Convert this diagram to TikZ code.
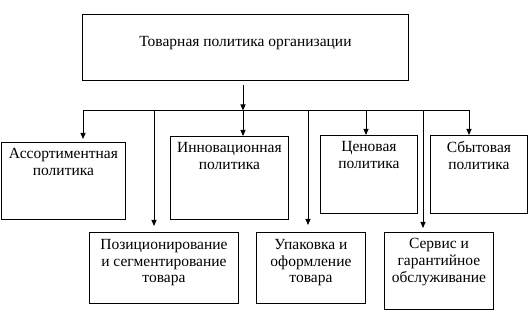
\documentclass[tikz,border=0pt]{standalone}
\usepackage{fontspec}
\setmainfont{Liberation Serif}
\usetikzlibrary{arrows.meta,calc}
\begin{document}
\begin{tikzpicture}[x=1pt,y=-1pt,
  box/.style={draw,line width=0.9pt,inner sep=0pt,anchor=north west},
  lbl/.style={anchor=north,align=center,inner sep=0pt,font=\fontsize{15.5}{16.8}\selectfont},
  con/.style={line width=0.9pt},
  arr/.style={con,-{Triangle[length=6pt,width=5pt]}}]
\useasboundingbox (0,0) rectangle (530,312);
% boxes
\node[box,minimum width=326pt,minimum height=66pt] (top) at (82,14) {};
\node[font=\fontsize{15.5}{16.8}\selectfont,inner sep=0pt] (top-t) at (245.5,43) {Товарная политика организации};
\node[box,minimum width=124pt,minimum height=77pt] (A) at (1,142) {};
\node[box,minimum width=118pt,minimum height=83pt] (I) at (170,136) {};
\node[box,minimum width=97pt,minimum height=78pt] (C) at (320,135) {};
\node[box,minimum width=97pt,minimum height=78pt] (S) at (430,135) {};
\node[box,minimum width=149pt,minimum height=71pt] (P) at (89,232) {};
\node[box,minimum width=109pt,minimum height=71pt] (U) at (256,232) {};
\node[box,minimum width=109pt,minimum height=77pt] (R) at (384,232) {};
% texts
\node[lbl] (A-t) at ([yshift=-6pt]A.north) {Ассортиментная\\политика};
\node[lbl] (I-t) at ([yshift=-6pt]I.north) {Инновационная\\политика};
\node[lbl] (C-t) at ([yshift=-6pt]C.north) {Ценовая\\политика};
\node[lbl] (S-t) at ([yshift=-6pt]S.north) {Сбытовая\\политика};
\node[lbl] (P-t) at ([yshift=-7pt]P.north) {Позиционирование\\и сегментирование\\товара};
\node[lbl] (U-t) at ([yshift=-7pt]U.north) {Упаковка и\\оформление\\товара};
\node[lbl] (R-t) at ([yshift=-6pt]R.north) {Сервис и\\гарантийное\\обслуживание};
% bus junctions
\coordinate (jA) at (83,110.5);
\coordinate (jP) at (154,110.5);
\coordinate (jI) at (243,110.5);
\coordinate (jU) at (308,110.5);
\coordinate (jC) at (366,110.5);
\coordinate (jR) at (423,110.5);
\coordinate (jS) at (469,110.5);
% connectors
\draw[arr,shorten <=4pt] (jI |- top.south) -- (jI);
\draw[con] (jA) -- (jS);
\draw[arr,shorten >=3pt] (jA) -- (jA |- A.north);
\draw[arr] (jI) -- (jI |- I.north);
\draw[arr] (jC) -- (jC |- C.north);
\draw[arr] (jS) -- (jS |- S.north);
\draw[arr,shorten >=6pt] (jP) -- (jP |- P.north);
\draw[arr,shorten >=7pt] (jU) -- (jU |- U.north);
\draw[arr,shorten >=4pt] (jR) -- (jR |- R.north);
\end{tikzpicture}
\end{document}
